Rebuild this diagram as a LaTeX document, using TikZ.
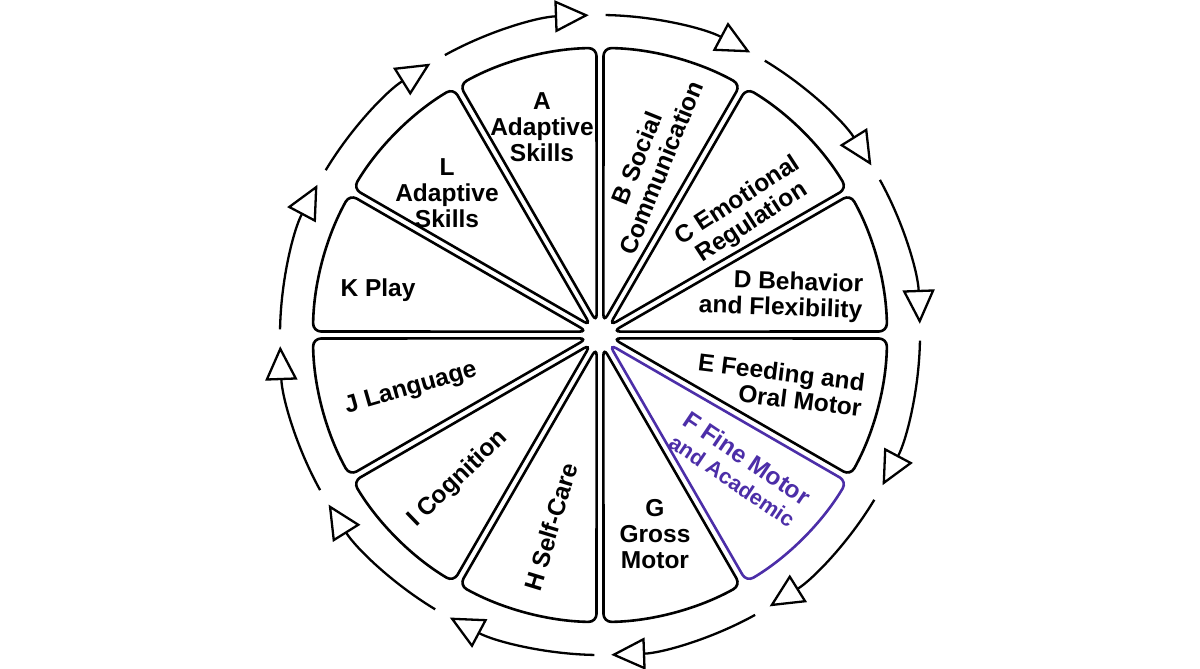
\documentclass[tikz,border=0pt]{standalone}
\usepackage{fontspec}
\setmainfont{Liberation Sans}
\usetikzlibrary{arrows.meta,calc}
\definecolor{finepurple}{RGB}{76,46,168}
\newcommand{\lblfont}{\fontsize{24.5}{26}\selectfont\bfseries}
\newcommand{\smalllbl}{\fontsize{21.5}{23}\selectfont}

\begin{document}
\begin{tikzpicture}[x=1pt, y=1pt,
  wedge/.style = {draw, line width=2.6pt, rounded corners=8pt},
  wedgelabel/.style = {font=\lblfont, align=center, inner sep=0pt},
  cyclearc/.style = {line width=2.3pt,
    -{Triangle[open, length=34pt, width=32pt, line width=2.3pt]}}]
  \useasboundingbox[fill=white] (0,0) rectangle (1200,669);
  \coordinate (C) at (600,334);
  % segments
  \foreach \a in {90,60,30,0,-60,-90,-120,-150,-180,-210,-240}
    \draw[wedge] ($(C)+(\a-15:13)$) -- ($(C)+(\a-0.7:287)$)
      arc[start angle=\a-0.7, end angle=\a-29.3, radius=287] -- cycle;
  \draw[wedge, finepurple] ($(C)+(-45:13)$) -- ($(C)+(-30.7:287)$)
    arc[start angle=-30.7, end angle=-59.3, radius=287] -- cycle;
  % cycle arrows
  \foreach \t in {92,62,...,-238}
    \draw[cyclearc] ($(C)+(\t+27:320)$) arc[start angle=\t+27, end angle=\t, radius=320];
  % labels
  \node[wedgelabel] (labA) at (542,542) {A\\Adaptive\\Skills};
  \node[wedgelabel, rotate=68] (labB) at (649,506) {B Social\\Communication};
  \node[wedgelabel, rotate=33] (labC) at (745,457) {C Emotional\\Regulation};
  \node[wedgelabel, align=right, rotate=-2] (labD) at (781,373) {D Behavior\\and Flexibility};
  \node[wedgelabel, align=right, rotate=-7] (labE) at (780,284) {E Feeding and\\Oral Motor};
  \node[wedgelabel, text=finepurple, rotate=-34] (labF) at (740,200) {F Fine Motor\\{\smalllbl and Academic}};
  \node[wedgelabel] (labG) at (655,135) {G\\Gross\\Motor};
  \node[wedgelabel, rotate=73] (labH) at (551,142) {H Self-Care};
  \node[wedgelabel, rotate=44] (labI) at (458,190) {I Cognition};
  \node[wedgelabel, rotate=16] (labJ) at (411,280) {J Language};
  \node[wedgelabel] (labK) at (378,379) {K Play};
  \node[wedgelabel] (labL) at (447,476) {L\\Adaptive\\Skills};
\end{tikzpicture}
\end{document}
